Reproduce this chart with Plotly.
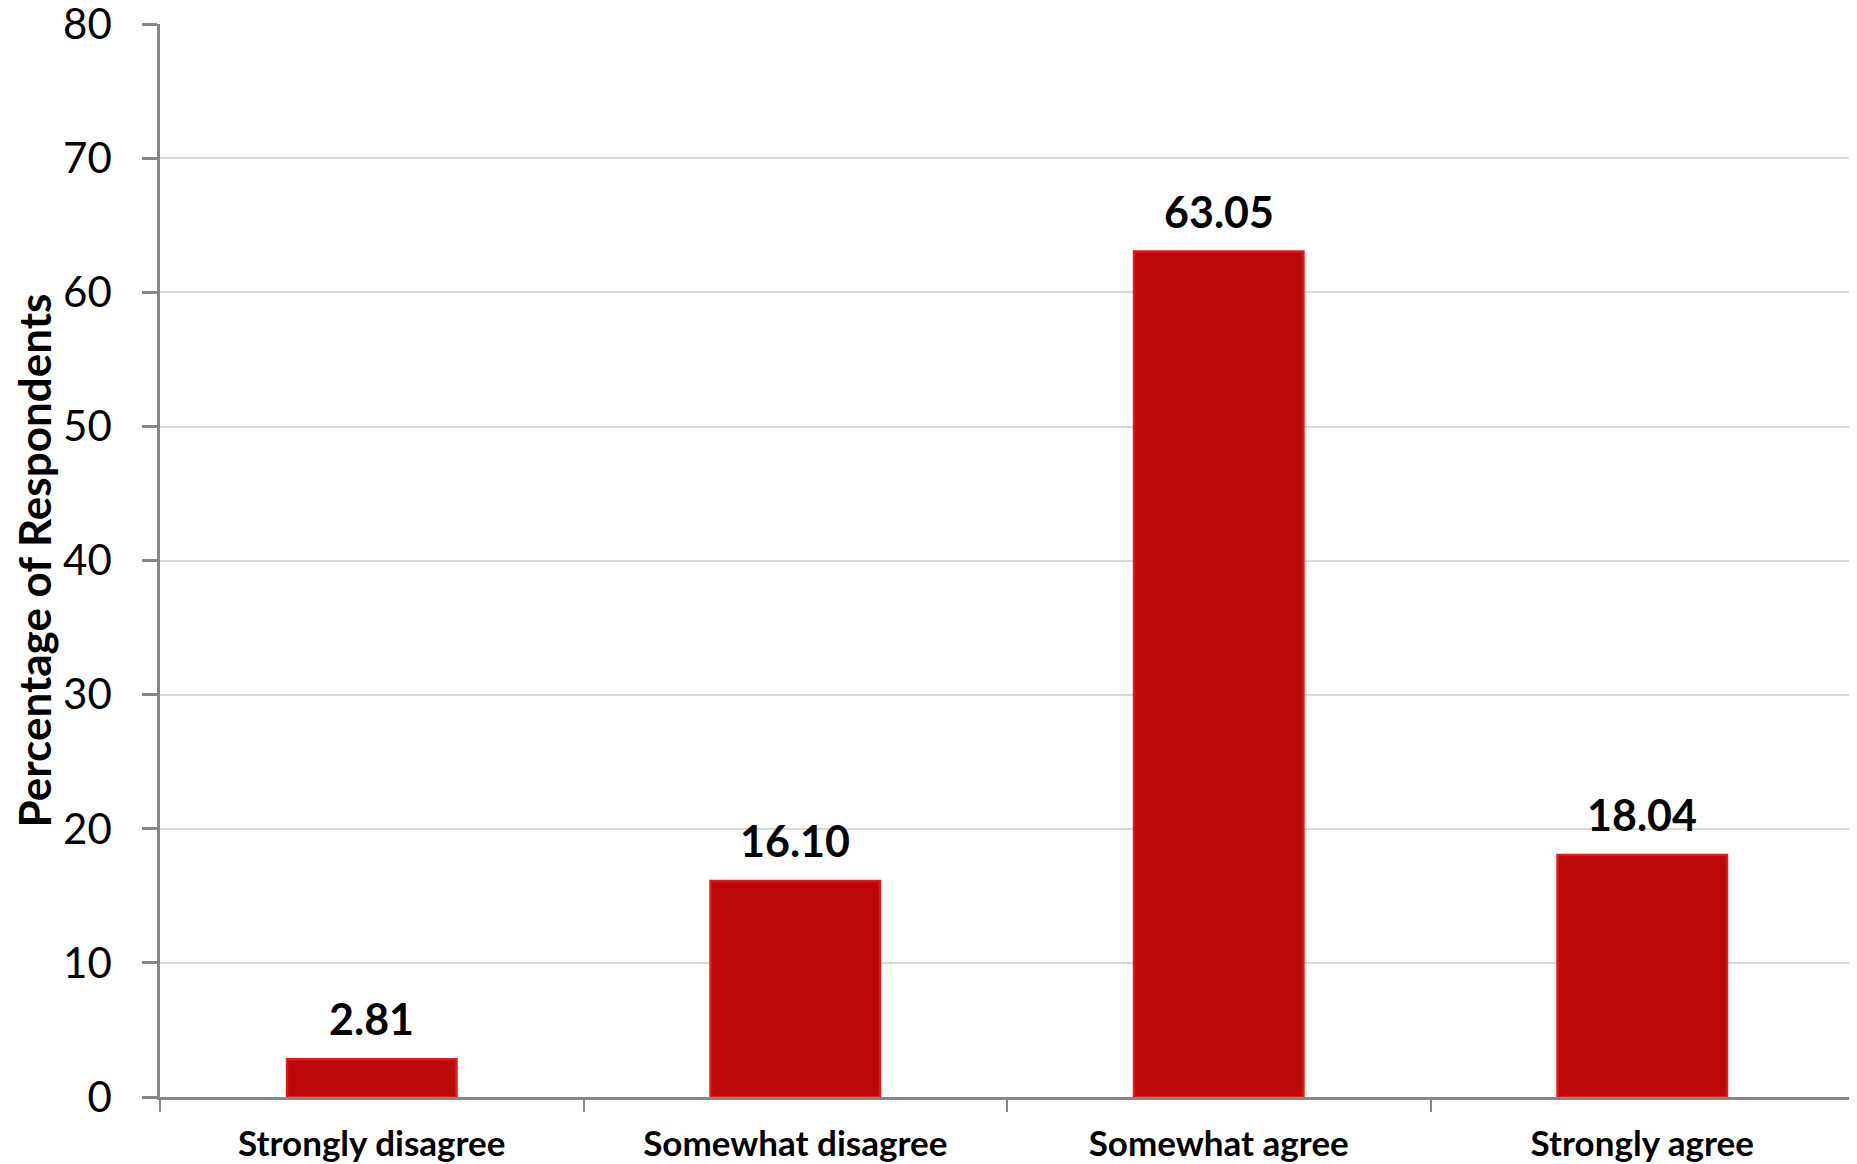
import plotly.graph_objects as go

categories = ["Strongly disagree", "Somewhat disagree", "Somewhat agree", "Strongly agree"]
values = [2.81, 16.10, 63.05, 18.04]
value_labels = ["2.81", "16.10", "63.05", "18.04"]
y_ticks = [0, 10, 20, 30, 40, 50, 60, 70, 80]

FONT = "Lato"

fig = go.Figure()
fig.add_trace(go.Bar(
    x=categories,
    y=values,
    marker=dict(color="#BC0808", line=dict(color="#DC1A1A", width=2.5)),
    width=0.4,
    hoverinfo="x+y",
))

for c, v, t in zip(categories, values, value_labels):
    fig.add_annotation(
        x=c, y=v, xref="x", yref="y", text="<b>%s</b>" % t,
        showarrow=False, yanchor="bottom", yshift=13,
        font=dict(family=FONT, size=43, color="#000000"),
    )

fig.update_layout(
    width=1849, height=1156,
    margin=dict(l=152, r=3, t=16, b=67),
    paper_bgcolor="#FFFFFF", plot_bgcolor="#FFFFFF",
    showlegend=False,
    font=dict(family=FONT, color="#000000"),
)

fig.update_xaxes(
    type="category",
    tickmode="array", tickvals=categories,
    ticktext=["<b>%s</b>" % c for c in categories],
    tickfont=dict(family=FONT, size=35, color="#000000"),
    showline=True, linecolor="#878787", linewidth=2.5,
    ticks="outside", tickson="boundaries", ticklen=12, tickcolor="#878787", tickwidth=2,
    showgrid=False, automargin=False, ticklabelstandoff=14,
    ticklabeloverflow="allow",
)

fig.update_yaxes(
    range=[0, 80.02], tickmode="array", tickvals=y_ticks,
    tickfont=dict(family=FONT, size=42, color="#000000"),
    showline=True, linecolor="#878787", linewidth=2.5,
    ticks="outside", ticklen=15, tickcolor="#878787", tickwidth=2.5,
    showgrid=True, gridcolor="#D9D9D9", gridwidth=2,
    zeroline=False, automargin=False, ticklabelstandoff=22,
    ticklabeloverflow="allow",
    title=dict(text="<b>Percentage of Respondents</b>",
               font=dict(family=FONT, size=44, color="#000000"), standoff=22),
)

fig.write_html("out.html")
